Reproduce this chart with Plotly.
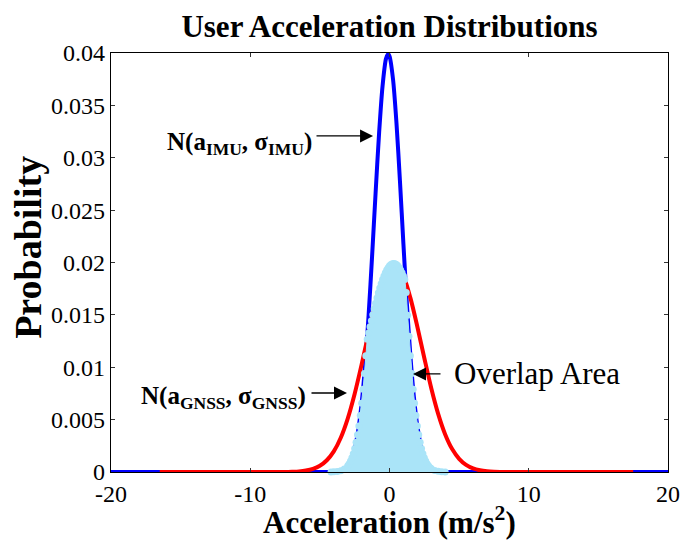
import plotly.graph_objects as go

# IMU acceleration distribution (blue)
imu_x = [-20, -6, -5, -4, -3.5, -3, -2.75, -2.5, -2.25, -2, -1.75, -1.5, -1.25, -1, -0.75,
         -0.5, -0.25, -0.1, 0, 0.25, 0.5, 0.75, 1, 1.25, 1.5, 1.75, 2, 2.25, 2.5, 2.75,
         3, 3.5, 4, 5, 6, 20]
imu_y = [0, 0, 0, 0.00002, 0.00012, 0.0006, 0.00119, 0.00224, 0.00395, 0.00656, 0.01022,
         0.01497, 0.0206, 0.02661, 0.0323, 0.03683, 0.03946, 0.0399, 0.0397, 0.03753, 0.03333,
         0.02779, 0.02175, 0.01602, 0.01109, 0.0072, 0.0044, 0.00252, 0.00136, 0.00069,
         0.00033, 0.00006, 0, 0, 0, 0]

# GNSS acceleration distribution (red)
gnss_x = [-16.5, -9, -7.5, -7, -6.5, -6, -5.5, -5, -4.5, -4, -3.5, -3, -2.5, -2, -1.5, -1,
          -0.5, 0, 0.3, 0.5, 1, 1.5, 2, 2.5, 3, 3.5, 4, 4.5, 5, 5.5, 6, 6.5, 7, 7.5, 9, 17.5]
gnss_y = [0, 0, 0.00001, 0.00003, 0.00006, 0.00014, 0.0003, 0.00059, 0.00112, 0.00197,
          0.00327, 0.0051, 0.00747, 0.01027, 0.01327, 0.01611, 0.01837, 0.01968, 0.0199,
          0.0198, 0.01872, 0.01662, 0.01387, 0.01088, 0.008, 0.00553, 0.00359, 0.00219,
          0.00126, 0.00068, 0.00034, 0.00016, 0.00007, 0.00003, 0, 0]

# Overlap of the two distributions (light blue stems)
overlap_x = [-4.2, -4.0, -3.75, -3.5, -3.25,
             -3.0, -2.9, -2.8, -2.7, -2.6, -2.5, -2.4, -2.3, -2.2, -2.1,
             -2.0, -1.9, -1.8, -1.7, -1.6, -1.5, -1.4, -1.3, -1.2, -1.1,
             -1.0, -0.9, -0.8, -0.7, -0.6, -0.5, -0.4, -0.3, -0.2, -0.1,
             0.0, 0.1, 0.2, 0.3, 0.4, 0.5, 0.6, 0.7, 0.8, 0.9,
             1.0, 1.1, 1.2, 1.3, 1.4, 1.5, 1.6, 1.7, 1.8, 1.9,
             2.0, 2.1, 2.2, 2.3, 2.4, 2.5, 2.6, 2.7, 2.8, 2.9, 3.0,
             3.25, 3.5, 3.75, 4.0]
overlap_y = [0.0, 0.00002, 0.00005, 0.00012, 0.00028,
             0.0006, 0.00079, 0.00104, 0.00136, 0.00175, 0.00224, 0.00283, 0.00355, 0.0044, 0.0054,
             0.00656, 0.0079, 0.00941, 0.01109, 0.01268, 0.01327, 0.01387, 0.01445, 0.01502, 0.01558,
             0.01611, 0.01662, 0.01711, 0.01756, 0.01798, 0.01837, 0.01872, 0.01902, 0.01929, 0.01951,
             0.01968, 0.0198, 0.01988, 0.0199, 0.01988, 0.0198, 0.01968, 0.01951, 0.01929, 0.01902,
             0.01872, 0.01837, 0.01714, 0.01497, 0.01296, 0.01109, 0.00941, 0.0079, 0.00656, 0.0054,
             0.0044, 0.00355, 0.00283, 0.00224, 0.00175, 0.00136, 0.00104, 0.00079, 0.0006, 0.00044, 0.00033,
             0.00015, 0.00006, 0.00002, 0.0]

x_ticks = [-20, -10, 0, 10, 20]
x_tick_text = ["-20", "-10", "0", "10", "20"]
y_ticks = [0, 0.005, 0.01, 0.015, 0.02, 0.025, 0.03, 0.035, 0.04]
y_tick_text = ["0", "0.005", "0.01", "0.015", "0.02", "0.025", "0.03", "0.035", "0.04"]

SERIF = "Liberation Serif, Times New Roman, serif"
LIGHT = "#aae4f8"

fig = go.Figure()

fig.add_trace(go.Scatter(
    x=imu_x, y=imu_y, mode="lines",
    line=dict(color="#0000ff", width=4, shape="spline", smoothing=0.8),
    showlegend=False, hoverinfo="skip"))

fig.add_trace(go.Scatter(
    x=gnss_x, y=gnss_y, mode="lines",
    line=dict(color="#ff0000", width=4, shape="spline", smoothing=0.8),
    showlegend=False, hoverinfo="skip"))

fig.add_trace(go.Scatter(
    x=overlap_x, y=overlap_y, mode="lines+markers",
    fill="tozeroy", fillcolor=LIGHT,
    line=dict(color=LIGHT, width=1),
    marker=dict(color=LIGHT, size=7, line=dict(width=0)),
    cliponaxis=False,
    showlegend=False, hoverinfo="skip"))

axis_common = dict(
    showline=True, linecolor="black", linewidth=1.2, mirror="ticks",
    ticks="inside", ticklen=4, tickcolor="#333333", tickwidth=1,
    showgrid=False, zeroline=False, automargin=False,
    tickfont=dict(family=SERIF, size=24, color="black"),
)

fig.update_xaxes(range=[-20, 20], tickvals=x_ticks, ticktext=x_tick_text, **axis_common)
fig.update_yaxes(range=[0, 0.04], tickvals=y_ticks, ticktext=y_tick_text, **axis_common)

arrow = dict(showarrow=True, arrowhead=2, arrowsize=2, arrowwidth=1.3,
             arrowcolor="black", axref="x", ayref="y", xref="x", yref="y", text="")

fig.update_layout(
    width=680, height=548,
    margin=dict(l=111, r=12, t=53, b=76),
    paper_bgcolor="white", plot_bgcolor="white",
    title=dict(text="<b>User Acceleration Distributions</b>",
               font=dict(family=SERIF, size=31, color="black"),
               x=0.5, xref="paper", xanchor="center",
               y=1 - 26 / 548, yref="container", yanchor="middle"),
    annotations=[
        dict(text="<b>Acceleration (m/s<sup>2</sup>)</b>", xref="paper", yref="paper",
             x=0.5, y=-0.115, xanchor="center", yanchor="middle", showarrow=False,
             font=dict(family=SERIF, size=31, color="black")),
        dict(text="<b>Probability</b>", xref="paper", yref="paper", textangle=-90,
             x=-0.149, y=0.535, xanchor="center", yanchor="middle", showarrow=False,
             font=dict(family=SERIF, size=38, color="black")),
        dict(text="<b>N(a<sub>IMU</sub>, σ<sub>IMU</sub>)</b>", xref="x", yref="y",
             x=-5.42, y=0.0314, xanchor="right", yanchor="middle", showarrow=False,
             font=dict(family=SERIF, size=25, color="black")),
        dict(text="<b>N(a<sub>GNSS</sub>, σ<sub>GNSS</sub>)</b>", xref="x", yref="y",
             x=-5.85, y=0.0071, xanchor="right", yanchor="middle", showarrow=False,
             font=dict(family=SERIF, size=25, color="black")),
        dict(text="Overlap Area", xref="x", yref="y",
             x=4.49, y=0.0094, xanchor="left", yanchor="middle", showarrow=False,
             font=dict(family=SERIF, size=31, color="black")),
        dict(x=-1.18, y=0.03208, ax=-5.35, ay=0.03208, **arrow),
        dict(x=-3.05, y=0.00754, ax=-5.71, ay=0.00754, **arrow),
        dict(x=1.69, y=0.00936, ax=3.77, ay=0.00936, **arrow),
    ],
)

fig.write_html("out.html")
